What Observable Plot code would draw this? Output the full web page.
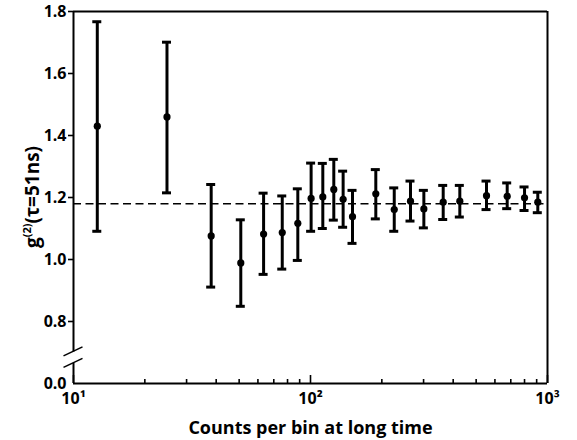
<!DOCTYPE html>
<html>
<head>
<meta charset="utf-8">
<script src="https://cdn.jsdelivr.net/npm/d3@7"></script>
<script src="https://cdn.jsdelivr.net/npm/@observablehq/plot@0.6"></script>
<style>
  body { margin: 0; background: #fff; }
  #chart { width: 577px; height: 440px; }
  #chart svg text { font-family: "Open Sans", "Liberation Sans", sans-serif; font-weight: 700; }
</style>
</head>
<body>
<div id="chart"></div>
<script>
// ---- data ----
const counts = [12.6, 24.8, 38.1, 50.8, 63.4, 76.0, 88.4, 100.6, 112.7, 125.4, 137.3, 150.4, 188.6, 225.6, 264.2, 300.8, 363, 426.6, 553, 676, 800, 910];
const g2     = [1.430, 1.460, 1.076, 0.989, 1.082, 1.087, 1.117, 1.197, 1.202, 1.226, 1.194, 1.138, 1.212, 1.161, 1.188, 1.163, 1.185, 1.188, 1.206, 1.204, 1.199, 1.185];
const g2Low  = [1.091, 1.215, 0.911, 0.849, 0.952, 0.969, 0.997, 1.091, 1.100, 1.127, 1.104, 1.052, 1.131, 1.091, 1.124, 1.102, 1.129, 1.137, 1.161, 1.164, 1.158, 1.151];
const g2High = [1.767, 1.701, 1.242, 1.128, 1.214, 1.205, 1.228, 1.311, 1.310, 1.323, 1.285, 1.223, 1.290, 1.231, 1.253, 1.223, 1.239, 1.239, 1.253, 1.247, 1.234, 1.217];
const refLevel = 1.18;

const xDomain = [10, 1000];
const yDomain = [0.6, 1.8];           // bottom of the broken axis is labelled "0.0"
const yTicks = [0.8, 1.0, 1.2, 1.4, 1.6, 1.8];
const yZeroTick = [0.6];
const yZeroLabel = "0.0";
const yBreak = [0.665, 0.702];        // axis break (gap between the two slashes)
const xMajorTicks = [10, 100, 1000];
const xMajorLabels = ["10\u00B9", "10\u00B2", "10\u00B3"];
const xMinorTicks = [20, 30, 40, 50, 60, 70, 80, 90, 200, 300, 400, 500, 600, 700, 800, 900];
const xTitle = "Counts per bin at long time";
const yTitleParts = ["g", "(2)", "(\u03C4=51ns)"];

const data = counts.map((c, i) => ({c, g: g2[i], lo: g2Low[i], hi: g2High[i]}));

// broken-axis slashes and the rotated y title (drawn through the scales)
const breakMark = (index, scales) => {
  const g = d3.create("svg:g").attr("stroke", "black").attr("stroke-width", 1.6);
  const cx = scales.x(xDomain[0]);
  for (const v of yBreak) {
    const cy = scales.y(v);
    g.append("line").attr("x1", cx - 9.5).attr("y1", cy + 4.5).attr("x2", cx + 9.5).attr("y2", cy - 4.5);
  }
  return g.node();
};
const yTitleMark = (index, scales) => {
  const cy = (scales.y(yDomain[0]) + scales.y(yDomain[1])) / 2;
  const t = d3.create("svg:text")
    .attr("transform", `translate(39,${cy}) rotate(-90)`)
    .attr("text-anchor", "middle")
    .attr("font-size", 19)
    .attr("fill", "black");
  t.append("tspan").text(yTitleParts[0]);
  t.append("tspan").attr("font-size", 11).attr("dy", -8).text(yTitleParts[1]);
  t.append("tspan").attr("dy", 8).text(yTitleParts[2]);
  return t.node();
};

const chart = Plot.plot({
  width: 577,
  height: 440,
  marginLeft: 73,
  marginRight: 30,
  marginTop: 11,
  marginBottom: 57,
  style: {fontSize: "16px", color: "black", background: "white"},
  x: {type: "log", domain: xDomain},
  y: {domain: yDomain},
  marks: [
    // frame (left side broken)
    Plot.ruleY([yDomain[1]], {stroke: "black", strokeWidth: 2}),
    Plot.ruleY([yDomain[0]], {stroke: "black", strokeWidth: 2}),
    Plot.ruleX([xDomain[1]], {stroke: "black", strokeWidth: 2}),
    Plot.ruleX([xDomain[0]], {y1: yDomain[0], y2: yBreak[0], stroke: "black", strokeWidth: 2}),
    Plot.ruleX([xDomain[0]], {y1: yBreak[1], y2: yDomain[1], stroke: "black", strokeWidth: 2}),
    breakMark,
    // inward x ticks
    Plot.ruleX(xMajorTicks, {y1: yDomain[0], y2: yDomain[0], insetBottom: 8, stroke: "black", strokeWidth: 1.6}),
    Plot.ruleX(xMinorTicks, {y1: yDomain[0], y2: yDomain[0], insetBottom: 4, stroke: "black", strokeWidth: 1.6}),
    // axes labels
    Plot.axisX({ticks: xMajorTicks, tickSize: 0, tickPadding: 9, tickFormat: d => xMajorLabels[xMajorTicks.indexOf(d)], fontSize: 16, label: null}),
    Plot.axisY({ticks: yTicks, tickSize: 5, tickPadding: 2, tickFormat: d3.format(".1f"), strokeWidth: 1.6, fontSize: 16, label: null}),
    Plot.axisY({ticks: yZeroTick, tickSize: 0, tickPadding: 7, tickFormat: () => yZeroLabel, fontSize: 16, label: null}),
    Plot.text([xTitle], {frameAnchor: "bottom", dy: 50, text: d => d, fontSize: 18, lineAnchor: "bottom"}),
    yTitleMark,
    // reference level
    Plot.ruleY([refLevel], {stroke: "black", strokeWidth: 1.5, strokeDasharray: "8,4.5"}),
    // error bars
    Plot.ruleX(data, {x: "c", y1: "lo", y2: "hi", stroke: "black", strokeWidth: 3}),
    Plot.ruleY(data, {y: "lo", x1: "c", x2: "c", insetLeft: -4.5, insetRight: -4.5, stroke: "black", strokeWidth: 3}),
    Plot.ruleY(data, {y: "hi", x1: "c", x2: "c", insetLeft: -4.5, insetRight: -4.5, stroke: "black", strokeWidth: 3}),
    Plot.dot(data, {x: "c", y: "g", r: 3.6, fill: "black", stroke: "none"})
  ]
});
document.getElementById("chart").append(chart);
</script>
</body>
</html>
